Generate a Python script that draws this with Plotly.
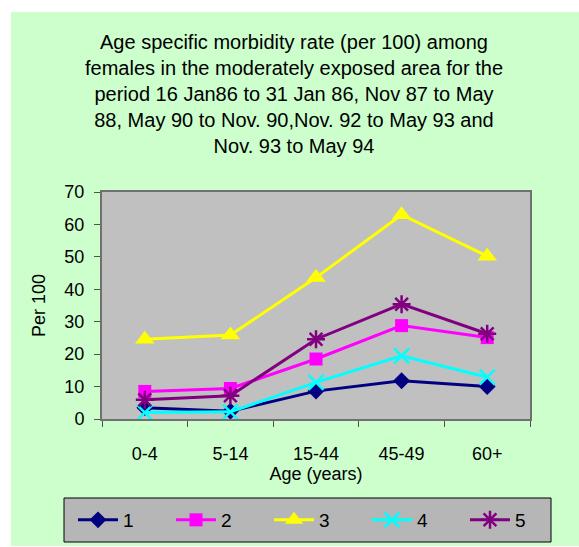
import plotly.graph_objects as go

# age groups on the x axis
ages = ["0-4", "5-14", "15-44", "45-49", "60+"]

# morbidity rate per 100, one list per period
s1 = [3.5, 2.4, 8.6, 11.8, 10.0]
s2 = [8.5, 9.4, 18.5, 28.8, 25.1]
s3 = [24.6, 25.9, 43.6, 63.0, 50.2]
s4 = [2.0, 2.2, 11.3, 19.5, 12.9]
s5 = [5.9, 7.2, 24.6, 35.4, 26.3]

names = ["1", "2", "3", "4", "5"]
series = [s1, s2, s3, s4, s5]
colors = ["#000080", "#FF00FF", "#FFFF00", "#00FFFF", "#800080"]
symbols = ["diamond", "square", "triangle-up", "x-thin-open", "asterisk-open"]
msizes = [13, 13, 17, 15, 15]

yticks = [0, 10, 20, 30, 40, 50, 60, 70]

W, H = 579, 547
L, R, T, B = 102, 49, 192, 128
pw, ph = W - L - R, H - T - B

def px_x(p):
    return (p - L) / pw

def px_y(p):
    return (H - B - p) / ph

fig = go.Figure()

for nm, vals, c, sym, ms in zip(names, series, colors, symbols, msizes):
    fig.add_trace(go.Scatter(
        x=ages, y=vals, name=nm,
        mode="lines+markers",
        line=dict(color=c, width=3),
        marker=dict(symbol=sym, size=ms, color=c,
                    line=dict(color=c, width=2.5 if "open" in sym else 0)),
    ))

font = "Liberation Sans, Arial, sans-serif"

fig.update_layout(
    width=W, height=H,
    margin=dict(l=L, r=R, t=T, b=B, autoexpand=False),
    paper_bgcolor="white",
    plot_bgcolor="rgba(0,0,0,0)",
    font=dict(family=font, size=18, color="black"),
    title=dict(
        text="Age specific morbidity rate (per 100) among<br>"
             "females in the moderately exposed area for the<br>"
             "period 16 Jan86 to 31 Jan 86, Nov 87 to May<br>"
             "88, May 90 to Nov. 90,Nov. 92 to May 93 and<br>"
             "Nov. 93 to May 94",
        x=294 / W, xanchor="center",
        yref="container", y=1 - 49 / H, yanchor="top",
        font=dict(family=font, size=20, color="black"),
    ),
    showlegend=True,
    legend=dict(
        orientation="h",
        x=px_x(73), xanchor="left",
        y=px_y(520), yanchor="middle",
        bgcolor="rgba(0,0,0,0)", borderwidth=0,
        font=dict(size=19),
        entrywidth=43,
        itemwidth=40,
    ),
    shapes=[
        # light green chart area
        dict(type="rect", xref="paper", yref="paper", layer="below",
             x0=px_x(11), x1=px_x(580), y0=px_y(546), y1=px_y(12),
             fillcolor="#CCFFCC", line=dict(width=0)),
        # grey plot area
        dict(type="rect", xref="paper", yref="paper", layer="below",
             x0=0, x1=1, y0=0, y1=1,
             fillcolor="#C0C0C0", line=dict(width=0)),
        # legend box
        dict(type="rect", xref="paper", yref="paper", layer="below",
             x0=px_x(64), x1=px_x(551), y0=px_y(542), y1=px_y(498),
             fillcolor="#B6B6B6", line=dict(color="black", width=1)),
    ],
)

fig.update_xaxes(
    type="category",
    range=[-0.5, len(ages) - 0.5],
    showgrid=False, zeroline=False,
    showline=True, linecolor="#707070", linewidth=2, mirror=True,
    ticks="outside", tickson="boundaries", ticklen=6, tickcolor="#505050",
    tickfont=dict(size=18),
    ticklabelstandoff=17,
    title=dict(text="Age (years)", font=dict(size=18), standoff=0),
)

fig.update_yaxes(
    range=[0, 70],
    tickvals=yticks,
    showgrid=False, zeroline=False,
    showline=True, linecolor="#707070", linewidth=2, mirror=True,
    ticks="outside", ticklen=6, tickcolor="#505050",
    tickfont=dict(size=18),
    ticklabelstandoff=6,
    title=dict(text="Per 100", font=dict(size=18), standoff=14),
)

# page body has a default margin; drop it so the figure sits at 0,0
fig.write_html("out.html", config={"displayModeBar": False},
               post_script="document.body.style.margin='0';")
